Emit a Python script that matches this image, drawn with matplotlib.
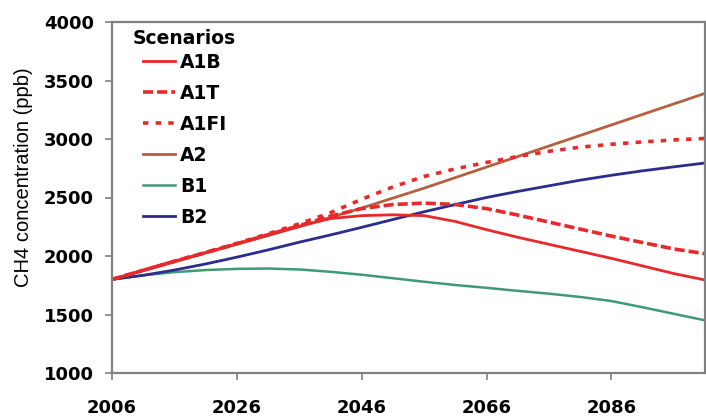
import matplotlib.pyplot as plt

# CH4 concentration projections by SRES scenario (ppb), 5-year steps
years = [2006, 2011, 2016, 2021, 2026, 2031, 2036, 2041, 2046, 2051,
         2056, 2061, 2066, 2071, 2076, 2081, 2086, 2091, 2096, 2101]

a1b = [1800, 1878, 1955, 2030, 2105, 2180, 2255, 2320, 2345, 2352,
       2345, 2295, 2225, 2160, 2100, 2040, 1980, 1915, 1850, 1795]
a1t = [1800, 1878, 1955, 2030, 2105, 2182, 2260, 2340, 2405, 2440,
       2452, 2440, 2405, 2350, 2290, 2230, 2170, 2115, 2060, 2020]
a1fi = [1800, 1878, 1955, 2030, 2108, 2190, 2275, 2370, 2485, 2590,
        2680, 2745, 2800, 2850, 2895, 2930, 2955, 2975, 2992, 3005]
a2 = [1800, 1875, 1950, 2025, 2100, 2175, 2250, 2330, 2410, 2495,
      2580, 2670, 2760, 2850, 2940, 3030, 3120, 3210, 3300, 3390]
b1 = [1800, 1835, 1862, 1880, 1890, 1893, 1885, 1865, 1840, 1810,
      1780, 1752, 1728, 1702, 1678, 1650, 1615, 1562, 1506, 1450]
b2 = [1800, 1835, 1880, 1932, 1990, 2052, 2118, 2180, 2245, 2312,
      2378, 2440, 2500, 2552, 2600, 2648, 2690, 2728, 2762, 2795]

xticks = [2006, 2026, 2046, 2066, 2086]
yticks = [1000, 1500, 2000, 2500, 3000, 3500, 4000]
scenarios = ['A1B', 'A1T', 'A1FI', 'A2', 'B1', 'B2']

W, H = 706, 417
fig = plt.figure(figsize=(W / 100, H / 100), dpi=100)
ax = fig.add_axes([112 / W, 1 - 373 / H, 593 / W, 351 / H])

red = '#e8282a'
lines = {}
lines['B1'], = ax.plot(years, b1, color='#3f9a74', lw=1.8)
lines['B2'], = ax.plot(years, b2, color='#2b2b90', lw=2.0)
lines['A2'], = ax.plot(years, a2, color='#b4603e', lw=2.0)
lines['A1B'], = ax.plot(years, a1b, color=red, lw=2.0)
lines['A1T'], = ax.plot(years, a1t, color=red, lw=2.6, linestyle=(0, (2.8, 1.1)))
lines['A1FI'], = ax.plot(years, a1fi, color=red, lw=2.6, linestyle=(0, (1.5, 2.0)))

ax.set_xlim(2006, 2101)
ax.set_ylim(1000, 4000)
ax.set_xticks(xticks)
ax.set_yticks(yticks)
tick_font = {'family': 'DejaVu Sans', 'weight': 'bold', 'size': 13}
ax.set_xticklabels([str(v) for v in xticks], fontdict=tick_font)
ax.set_yticklabels([str(v) for v in yticks], fontdict=tick_font)
ax.tick_params(axis='both', length=5, width=1.2, color='#808080')
ax.tick_params(axis='x', pad=14)
ax.tick_params(axis='y', pad=8)

for sp in ax.spines.values():
    sp.set_color('#808080')
    sp.set_linewidth(1.6)

ax.set_ylabel('CH4 concentration (ppb)', family='Liberation Sans', fontsize=14.5)
ax.yaxis.set_label_coords(-0.133, 0.558)

# legend: title as plain text, entries below it
fig.text(133 / W, 1 - 38 / H, 'Scenarios', family='DejaVu Sans', weight='bold',
         size=13.5, ha='left', va='center')
leg = fig.legend([lines[k] for k in scenarios], scenarios,
                 loc='upper left', bbox_to_anchor=(143 / W, 1 - 53 / H),
                 frameon=False, borderpad=0, borderaxespad=0,
                 prop={'family': 'DejaVu Sans', 'weight': 'bold', 'size': 13.5},
                 handlelength=1.7, handletextpad=0.27, labelspacing=0.64)

fig.savefig('out.png', dpi=100)
